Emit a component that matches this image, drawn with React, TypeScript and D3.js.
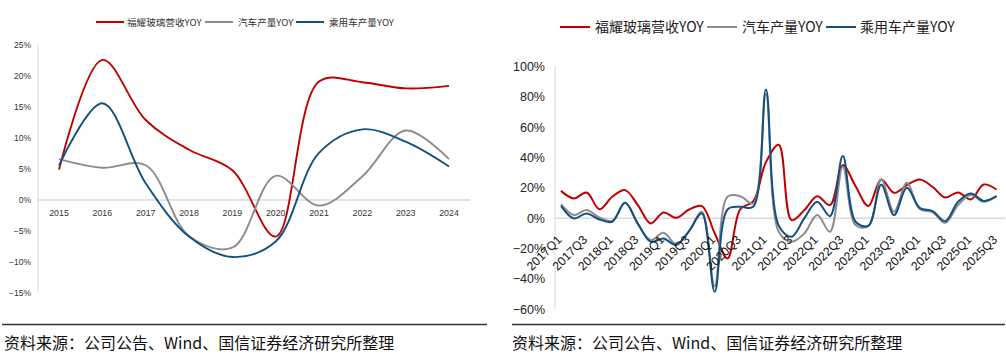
import React from "react";
import * as d3 from "d3";

const years = ["2015", "2016", "2017", "2018", "2019", "2020", "2021", "2022", "2023", "2024"];
const fuyaoAnnual = [4.9, 22.6, 12.9, 8.1, 4.8, -5.9, 19.1, 19.0, 18.0, 18.4];
const autoAnnual = [6.6, 5.2, 5.6, -5.8, -7.7, 3.9, -0.9, 3.8, 11.2, 6.6];
const passengerAnnual = [5.6, 15.6, 2.7, -5.9, -9.2, -6.7, 7.6, 11.4, 9.4, 5.4];
const leftYTicks = [25, 20, 15, 10, 5, 0, -5, -10, -15];

const quarters = [
  "2017Q1", "2017Q2", "2017Q3", "2017Q4", "2018Q1", "2018Q2", "2018Q3", "2018Q4",
  "2019Q1", "2019Q2", "2019Q3", "2019Q4", "2020Q1", "2020Q2", "2020Q3", "2020Q4",
  "2021Q1", "2021Q2", "2021Q3", "2021Q4", "2022Q1", "2022Q2", "2022Q3", "2022Q4",
  "2023Q1", "2023Q2", "2023Q3", "2023Q4", "2024Q1", "2024Q2", "2024Q3", "2024Q4",
  "2025Q1", "2025Q2", "2025Q3",
];
const fuyaoQ = [18.0, 13.0, 16.9, 5.9, 14.1, 18.5, 8.6, -3.5, 3.7, 0.2, 5.7, 7.9, -10.0, -26.6, 6.0, 11.0, 37.0, 48.5, -1.3, 5.3, 14.5, 8.6, 35.0, 21.0, 8.0, 25.5, 16.7, 21.8, 25.5, 20.7, 13.6, 17.0, 12.3, 22.2, 18.9];
const autoQ = [9.2, 2.0, 5.3, 0.4, -1.8, 10.1, -4.0, -14.5, -9.7, -17.2, -8.4, 4.2, -45.0, 14.1, 14.5, 9.7, 82.0, -9.0, -15.6, -10.1, 2.0, -9.0, 34.0, -4.6, -5.3, 25.5, 4.2, 23.3, 6.0, 4.0, -3.1, 8.6, 15.2, 10.8, 14.5];
const passengerQ = [8.1, -0.2, 3.1, -0.9, -2.4, 10.1, -3.5, -15.6, -13.4, -17.8, -8.5, 3.0, -48.6, 5.7, 7.5, 7.5, 85.0, -5.0, -12.3, 0.0, 10.8, 1.3, 41.0, -2.4, -5.0, 22.0, 2.0, 20.0, 6.8, 4.6, -2.0, 10.8, 16.3, 11.4, 14.5];
const rightYTicks = [100, 80, 60, 40, 20, 0, -20, -40, -60];

const seriesNames = ["福耀玻璃营收YOY", "汽车产量YOY", "乘用车产量YOY"];
const colors = ["#c00000", "#8c8c8c", "#13507f"];
const sourceText = "资料来源：公司公告、Wind、国信证券经济研究所整理";

const fmtPct = (v: number) => (v < 0 ? "\u2212" + Math.abs(v) : String(v)) + "%";
const latin = "'Liberation Sans', Arial, 'Noto Sans CJK SC', sans-serif";
const cjk = "'Noto Sans CJK SC', 'Liberation Sans', sans-serif";

export default function App() {
  // Left chart
  const xL = d3.scalePoint<string>().domain(years).range([59, 449]);
  const yL = d3.scaleLinear().domain([-15, 25]).range([293, 45]);
  const lineL = (vals: number[]) =>
    d3.line<number>().x((_, i) => xL(years[i]) as number).y((d) => yL(d)).curve(d3.curveCatmullRom.alpha(0.5))(vals) || "";
  const leftSeries = [fuyaoAnnual, autoAnnual, passengerAnnual];

  // Right chart
  const xR = d3.scalePoint<string>().domain(quarters).range([561, 996.5]);
  const yR = d3.scaleLinear().domain([-60, 100]).range([309, 66.7]);
  const lineR = (vals: number[]) =>
    d3.line<number>().x((_, i) => xR(quarters[i]) as number).y((d) => yR(d)).curve(d3.curveCatmullRom.alpha(0.5))(vals) || "";
  const rightSeries = [fuyaoQ, autoQ, passengerQ];

  const legL = [
    { lx: 96, tx: 127 },
    { lx: 205, tx: 238 },
    { lx: 296, tx: 329 },
  ];
  const legR = [
    { lx: 560, tx: 595 },
    { lx: 707, tx: 742 },
    { lx: 826, tx: 860 },
  ];

  return (
    <svg width={1006} height={356} style={{ position: "absolute", left: 0, top: 0, background: "#fff" }}>
      <rect x={0} y={0} width={1006} height={356} fill="#fff" />
      {/* LEFT CHART */}
      {seriesNames.map((n, i) => (
        <g key={"ll" + i}>
          <line x1={legL[i].lx} x2={legL[i].lx + 28} y1={22} y2={22} stroke={colors[i]} strokeWidth={2} />
          <text x={legL[i].tx} y={25.5} fontSize={9.6} fontFamily={cjk} fill="#333">{n}</text>
        </g>
      ))}
      <line x1={38} x2={38} y1={45} y2={293} stroke="#d9d9d9" strokeWidth={1} />
      <line x1={38} x2={470} y1={yL(0)} y2={yL(0)} stroke="#d9d9d9" strokeWidth={1.5} />
      {leftYTicks.map((t) => (
        <text key={"ly" + t} x={31} y={yL(t) + 3} textAnchor="end" fontSize={8.5} fontFamily={latin} fill="#333">{fmtPct(t)}</text>
      ))}
      {years.map((y) => (
        <text key={"lx" + y} x={xL(y)} y={216} textAnchor="middle" fontSize={8.8} fontFamily={latin} fill="#333">{y}</text>
      ))}
      {leftSeries.map((s, i) => (
        <path key={"lp" + i} d={lineL(s)} fill="none" stroke={colors[i]} strokeWidth={1.9} />
      ))}
      <line x1={2} x2={487} y1={324.5} y2={324.5} stroke="#333" strokeWidth={1.5} />
      <text x={4} y={349} fontSize={16} fontFamily={cjk} fill="#111">{sourceText}</text>

      {/* RIGHT CHART */}
      {seriesNames.map((n, i) => (
        <g key={"rl" + i}>
          <line x1={legR[i].lx} x2={legR[i].lx + 30} y1={27} y2={27} stroke={colors[i]} strokeWidth={2} />
          <text x={legR[i].tx} y={32} fontSize={14} fontFamily={cjk} fill="#222">{n}</text>
        </g>
      ))}
      <line x1={555} x2={555} y1={66} y2={309} stroke="#d9d9d9" strokeWidth={1} />
      <line x1={555} x2={1005} y1={yR(0)} y2={yR(0)} stroke="#d9d9d9" strokeWidth={1.5} />
      {rightYTicks.map((t) => (
        <text key={"ry" + t} x={545} y={yR(t) + 4.5} textAnchor="end" fontSize={12.5} fontFamily={latin} fill="#222">{fmtPct(t)}</text>
      ))}
      {rightSeries.map((s, i) => (
        <path key={"rp" + i} d={lineR(s)} fill="none" stroke={colors[i]} strokeWidth={2} />
      ))}
      {quarters.filter((_, i) => i % 2 === 0).map((q) => {
        const x = (xR(q) as number) + 1.5;
        const y = 240.5;
        return (
          <text key={"rx" + q} x={x} y={y} textAnchor="end" transform={`rotate(-45 ${x} ${y})`} fontSize={12.2} fontFamily={latin} fill="#111">{q}</text>
        );
      })}
      <line x1={512} x2={1005} y1={324.5} y2={324.5} stroke="#333" strokeWidth={1.5} />
      <text x={512} y={349} fontSize={16} fontFamily={cjk} fill="#111">{sourceText}</text>
    </svg>
  );
}
